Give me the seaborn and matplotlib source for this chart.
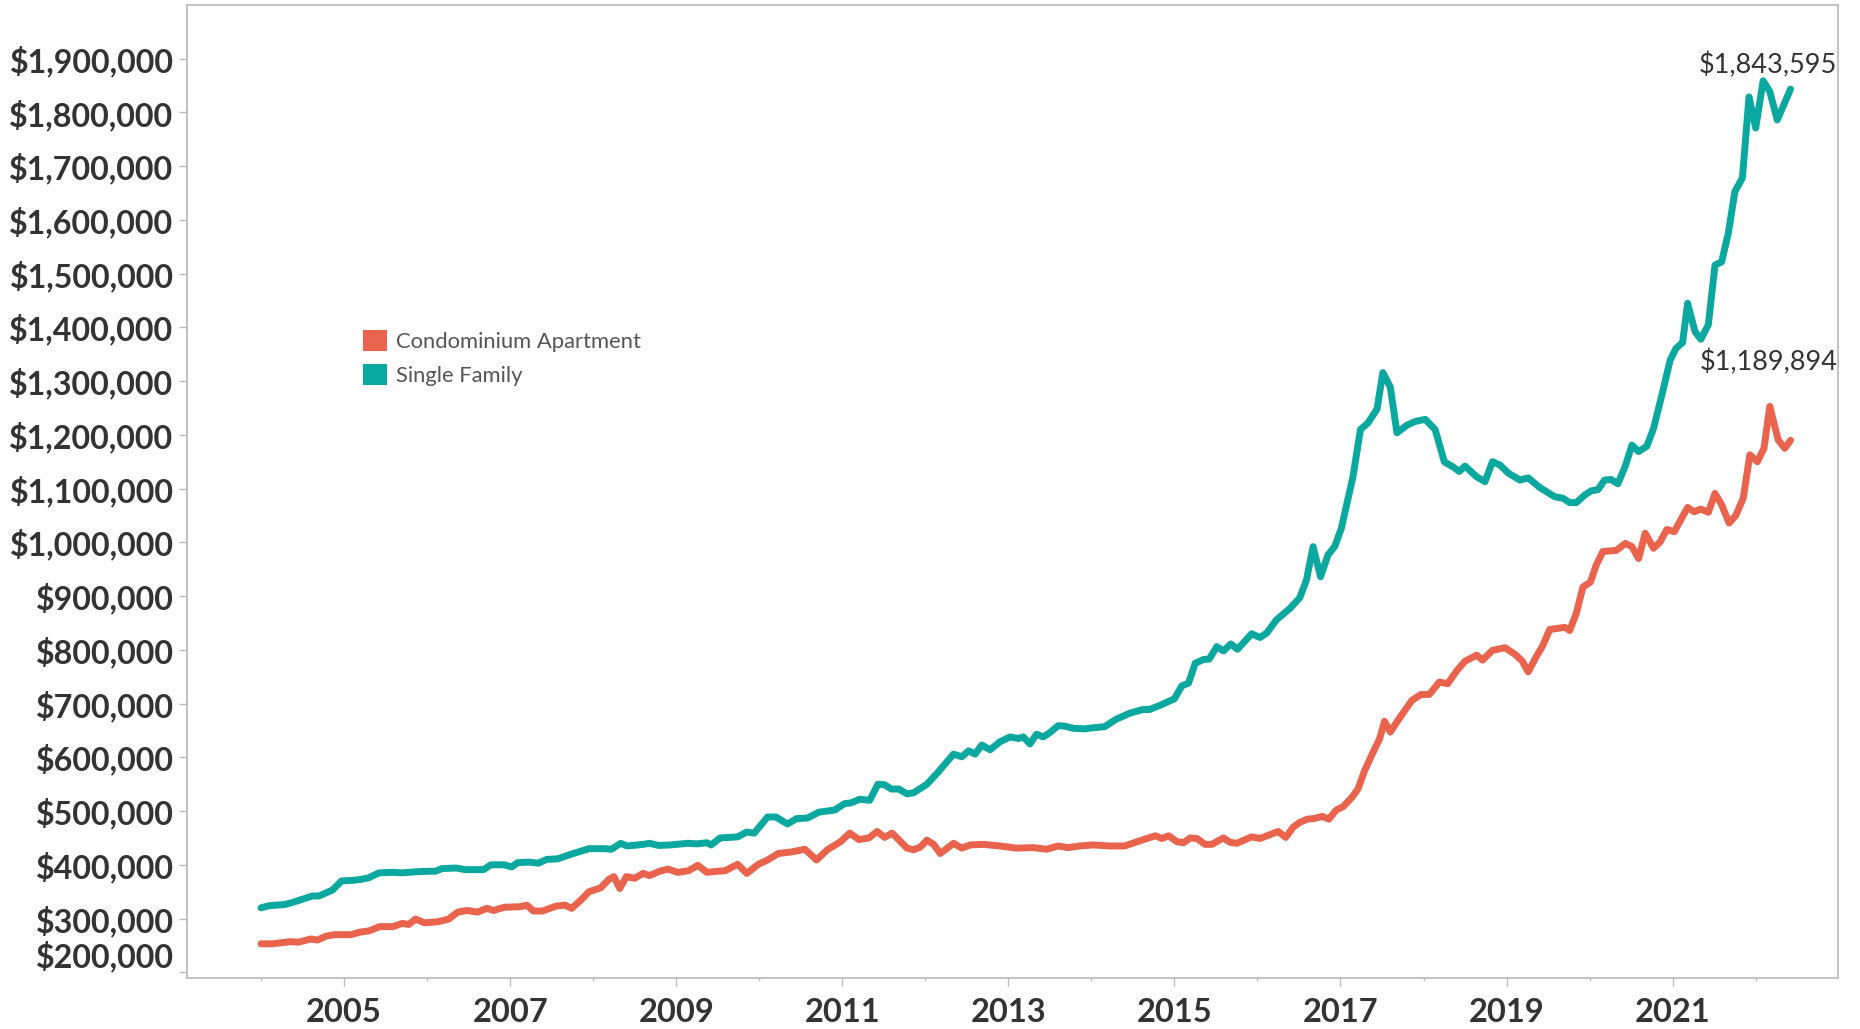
"""
Median sale price: condominium apartments vs single family homes, 2004-2022.
Values read off the reference chart (thousands of dollars, decimal years).
"""
import pandas as pd
import numpy as np
import matplotlib
matplotlib.use("Agg")
import matplotlib.pyplot as plt
from matplotlib.patches import Patch
from matplotlib.ticker import FuncFormatter, FixedLocator
import seaborn as sns

CONDO_YEARS = [
    2004.00, 2004.14, 2004.35, 2004.45, 2004.60, 2004.68, 2004.78, 2004.88, 2005.08, 2005.20,
    2005.30, 2005.43, 2005.59, 2005.70, 2005.78, 2005.86, 2005.97, 2006.13, 2006.26, 2006.37,
    2006.48, 2006.61, 2006.72, 2006.80, 2006.93, 2007.12, 2007.20, 2007.28, 2007.39, 2007.55,
    2007.66, 2007.74, 2007.85, 2007.95, 2008.09, 2008.19, 2008.25, 2008.32, 2008.40, 2008.50,
    2008.60, 2008.68, 2008.80, 2008.90, 2009.02, 2009.15, 2009.26, 2009.37, 2009.50, 2009.59,
    2009.74, 2009.85, 2009.99, 2010.10, 2010.23, 2010.39, 2010.55, 2010.69, 2010.82, 2010.98,
    2011.09, 2011.20, 2011.32, 2011.42, 2011.51, 2011.60, 2011.78, 2011.86, 2011.94, 2012.02,
    2012.10, 2012.18, 2012.34, 2012.44, 2012.54, 2012.70, 2012.90, 2013.10, 2013.30, 2013.46,
    2013.60, 2013.72, 2013.86, 2014.02, 2014.22, 2014.40, 2014.59, 2014.77, 2014.85, 2014.93,
    2015.03, 2015.11, 2015.19, 2015.27, 2015.37, 2015.45, 2015.59, 2015.67, 2015.75, 2015.93,
    2016.03, 2016.25, 2016.34, 2016.43, 2016.51, 2016.60, 2016.68, 2016.78, 2016.86, 2016.95,
    2017.03, 2017.14, 2017.21, 2017.29, 2017.40, 2017.47, 2017.53, 2017.60, 2017.71, 2017.86,
    2017.97, 2018.07, 2018.19, 2018.29, 2018.40, 2018.50, 2018.64, 2018.71, 2018.83, 2018.98,
    2019.10, 2019.19, 2019.26, 2019.36, 2019.43, 2019.52, 2019.62, 2019.70, 2019.76, 2019.84,
    2019.92, 2020.01, 2020.08, 2020.16, 2020.32, 2020.43, 2020.51, 2020.59, 2020.67, 2020.77,
    2020.85, 2020.93, 2021.02, 2021.18, 2021.26, 2021.34, 2021.43, 2021.51, 2021.59, 2021.68,
    2021.76, 2021.85, 2021.93, 2022.02, 2022.10, 2022.17, 2022.27, 2022.35, 2022.42,
]
CONDO_PRICE_K = [
    253, 253, 257, 256, 262, 260, 267, 270, 270, 275,
    277, 285, 285, 291, 289, 299, 292, 294, 299, 312,
    315, 312, 319, 315, 321, 322, 325, 314, 314, 323,
    325, 319, 334, 350, 357, 373, 378, 356, 378, 375,
    384, 380, 388, 392, 386, 389, 399, 386, 388, 389,
    401, 384, 401, 409, 421, 424, 429, 409, 428, 443,
    459, 447, 450, 462, 451, 459, 431, 428, 433, 446,
    438, 421, 440, 431, 437, 438, 435, 431, 432, 429,
    435, 432, 435, 437, 435, 435, 445, 454, 449, 454,
    443, 441, 450, 449, 438, 438, 450, 442, 440, 452,
    449, 462, 451, 470, 479, 485, 486, 490, 485, 502,
    508, 526, 541, 575, 612, 634, 667, 647, 673, 706,
    717, 717, 740, 737, 761, 779, 790, 781, 799, 804,
    792, 779, 759, 788, 806, 838, 840, 842, 836, 868,
    917, 926, 958, 983, 985, 998, 992, 970, 1017, 989,
    1001, 1024, 1020, 1065, 1057, 1062, 1056, 1091, 1070, 1036,
    1050, 1082, 1163, 1150, 1175, 1253, 1191, 1175, 1189.894,
]

SINGLE_YEARS = [
    2004.00, 2004.10, 2004.28, 2004.38, 2004.62, 2004.70, 2004.86, 2004.97, 2005.10, 2005.21,
    2005.30, 2005.42, 2005.58, 2005.70, 2005.86, 2006.02, 2006.10, 2006.18, 2006.35, 2006.46,
    2006.68, 2006.77, 2006.93, 2007.02, 2007.09, 2007.23, 2007.34, 2007.44, 2007.57, 2007.74,
    2007.95, 2008.14, 2008.22, 2008.33, 2008.41, 2008.60, 2008.68, 2008.79, 2008.93, 2009.14,
    2009.25, 2009.37, 2009.42, 2009.53, 2009.74, 2009.85, 2009.94, 2010.10, 2010.20, 2010.34,
    2010.45, 2010.58, 2010.72, 2010.91, 2011.03, 2011.10, 2011.21, 2011.33, 2011.43, 2011.51,
    2011.59, 2011.68, 2011.78, 2011.86, 2012.02, 2012.14, 2012.34, 2012.44, 2012.52, 2012.60,
    2012.68, 2012.78, 2012.90, 2013.02, 2013.12, 2013.18, 2013.26, 2013.34, 2013.42, 2013.50,
    2013.60, 2013.68, 2013.78, 2013.92, 2014.02, 2014.16, 2014.30, 2014.46, 2014.62, 2014.70,
    2014.83, 2015.00, 2015.09, 2015.17, 2015.25, 2015.35, 2015.42, 2015.51, 2015.59, 2015.68,
    2015.76, 2015.93, 2016.03, 2016.11, 2016.23, 2016.39, 2016.51, 2016.59, 2016.67, 2016.76,
    2016.85, 2016.93, 2017.01, 2017.15, 2017.24, 2017.33, 2017.44, 2017.51, 2017.60, 2017.68,
    2017.80, 2017.90, 2018.02, 2018.14, 2018.25, 2018.36, 2018.43, 2018.50, 2018.64, 2018.74,
    2018.83, 2018.92, 2019.02, 2019.16, 2019.26, 2019.40, 2019.58, 2019.68, 2019.76, 2019.84,
    2019.94, 2020.02, 2020.10, 2020.18, 2020.26, 2020.34, 2020.43, 2020.51, 2020.59, 2020.69,
    2020.77, 2020.87, 2020.97, 2021.04, 2021.12, 2021.18, 2021.27, 2021.34, 2021.43, 2021.51,
    2021.59, 2021.67, 2021.75, 2021.84, 2021.92, 2022.00, 2022.09, 2022.17, 2022.26, 2022.42,
]
SINGLE_PRICE_K = [
    320, 324, 326, 330, 342, 342, 353, 370, 371, 373,
    376, 385, 386, 385, 387, 388, 388, 393, 394, 391,
    391, 400, 400, 396, 404, 405, 403, 410, 411, 420,
    430, 430, 429, 440, 435, 438, 440, 436, 437, 440,
    439, 441, 437, 450, 452, 461, 459, 489, 489, 476,
    486, 487, 498, 502, 514, 515, 522, 520, 550, 549,
    541, 541, 532, 534, 550, 570, 606, 601, 612, 606,
    623, 614, 629, 638, 635, 638, 625, 643, 638, 646,
    659, 658, 654, 653, 655, 657, 671, 682, 689, 689,
    697, 709, 733, 738, 775, 782, 783, 806, 798, 811,
    801, 830, 823, 831, 856, 877, 897, 930, 992, 936,
    977, 992, 1026, 1122, 1210, 1222, 1248, 1316, 1289, 1204,
    1218, 1225, 1229, 1210, 1150, 1140, 1132, 1142, 1122, 1113,
    1150, 1144, 1129, 1116, 1120, 1102, 1085, 1082, 1074, 1074,
    1088, 1096, 1098, 1116, 1117, 1109, 1142, 1181, 1169, 1179,
    1212, 1274, 1339, 1361, 1372, 1445, 1392, 1378, 1405, 1516,
    1522, 1575, 1653, 1678, 1829, 1771, 1859, 1839, 1786, 1843.595,
]

SERIES = ["Condominium Apartment", "Single Family"]
COLORS = {"Condominium Apartment": "#e9634d", "Single Family": "#0aa89e"}

Y_TICKS = list(range(200000, 2000000, 100000))
MAJOR_YEARS = list(range(2005, 2023, 2))
MINOR_YEARS = list(range(2004, 2023, 2))

W, H = 1860, 1029


def main():
    df = pd.concat([
        pd.DataFrame({"year": CONDO_YEARS, "price": np.array(CONDO_PRICE_K) * 1000,
                      "type": SERIES[0]}),
        pd.DataFrame({"year": SINGLE_YEARS, "price": np.array(SINGLE_PRICE_K) * 1000,
                      "type": SERIES[1]}),
    ], ignore_index=True)

    sns.set_style("white")
    plt.rcParams["font.family"] = ["Lato", "DejaVu Sans"]

    fig = plt.figure(figsize=(W / 100, H / 100), dpi=100)
    ax = fig.add_axes([186.7 / W, 1 - 978.3 / H, (1838.3 - 186.7) / W, (978.3 - 5) / H])

    sns.lineplot(data=df, x="year", y="price", hue="type", palette=COLORS,
                 hue_order=SERIES, linewidth=5, legend=False, ax=ax,
                 solid_joinstyle="round", solid_capstyle="round")

    ax.set_xlim(2003.105, 2022.995)
    ax.set_ylim(188800, 2000000)
    ax.set_xlabel("")
    ax.set_ylabel("")

    # axes frame
    for sp in ax.spines.values():
        sp.set_visible(True)
        sp.set_color("#bdbdbd")
        sp.set_linewidth(1.3)

    # y axis: currency ticks
    ax.set_yticks(Y_TICKS)
    ax.yaxis.set_major_formatter(FuncFormatter(lambda v, _: f"${v:,.0f}"))
    ax.tick_params(axis="y", which="major", left=True, length=5.5, width=1,
                   color="#bdbdbd", pad=4, labelsize=23.2, labelcolor="#333333")
    for lbl in ax.get_yticklabels():
        lbl.set_fontweight("bold")

    # x axis: labels on odd years, small ticks on even years
    ax.xaxis.set_major_locator(FixedLocator(MAJOR_YEARS))
    ax.xaxis.set_minor_locator(FixedLocator(MINOR_YEARS))
    ax.xaxis.set_major_formatter(FuncFormatter(lambda v, _: f"{int(round(v))}"))
    ax.tick_params(axis="x", which="major", bottom=True, length=5.5, width=1,
                   color="#bdbdbd", pad=9, labelsize=23.5, labelcolor="#333333")
    ax.tick_params(axis="x", which="minor", bottom=True, length=2.5, width=1,
                   color="#bdbdbd")
    for lbl in ax.get_xticklabels():
        lbl.set_fontweight("bold")

    fig.canvas.draw()
    # bottom label sits above its tick, as in the source
    ylabels = ax.get_yticklabels()
    ylabels[0].set_verticalalignment("bottom")

    # end-of-line value labels
    ax.annotate(f"${SINGLE_PRICE_K[-1] * 1000:,.0f}",
                xy=(SINGLE_YEARS[-1], SINGLE_PRICE_K[-1] * 1000),
                xytext=(-16.5, 17.3), textcoords="offset points",
                ha="center", va="center", fontsize=19.5, color="#333333")
    ax.annotate(f"${CONDO_PRICE_K[-1] * 1000:,.0f}",
                xy=(CONDO_YEARS[-1], CONDO_PRICE_K[-1] * 1000),
                xytext=(-15.5, 56), textcoords="offset points",
                ha="center", va="center", fontsize=19.5, color="#333333")

    handles = [Patch(facecolor=COLORS[s], edgecolor="none", label=s) for s in SERIES]
    leg = ax.legend(handles=handles, loc="upper left",
                    bbox_to_anchor=(362.7 / W, 1 - 329.8 / H),
                    bbox_transform=fig.transFigure, frameon=False,
                    fontsize=15.8, handlelength=1.1, handleheight=1.1,
                    handletextpad=0.4, labelspacing=0.56, borderpad=0,
                    borderaxespad=0)
    for t in leg.get_texts():
        t.set_color("#555555")

    fig.savefig("out.png", dpi=100)
    plt.close(fig)


if __name__ == "__main__":
    main()
